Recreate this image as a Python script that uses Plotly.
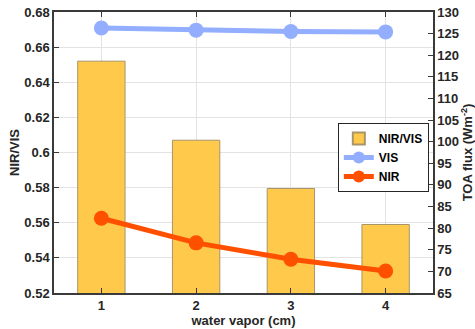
import plotly.graph_objects as go

water_vapor = [1, 2, 3, 4]
nir_vis = [0.652, 0.607, 0.5795, 0.559]
vis_flux = [126.3, 125.8, 125.5, 125.4]
nir_flux = [82.3, 76.6, 72.8, 70.1]

left_ticks = [0.52, 0.54, 0.56, 0.58, 0.60, 0.62, 0.64, 0.66, 0.68]
left_labels = ["0.52", "0.54", "0.56", "0.58", "0.6", "0.62", "0.64", "0.66", "0.68"]
right_ticks = list(range(65, 131, 5))

FONT = dict(family="Liberation Sans, Arial, sans-serif", size=13, color="#262626", weight="bold")
AX = "#3a3a3a"

fig = go.Figure()
fig.add_trace(go.Bar(
    x=water_vapor, y=nir_vis, width=0.5, name="NIR/VIS",
    marker=dict(color="#FFC94B", line=dict(color="#A8956A", width=1)),
    yaxis="y",
))
fig.add_trace(go.Scatter(
    x=water_vapor, y=vis_flux, name="VIS", mode="lines+markers",
    line=dict(color="#93AEFF", width=5), marker=dict(size=15, color="#93AEFF"),
    yaxis="y2",
))
fig.add_trace(go.Scatter(
    x=water_vapor, y=nir_flux, name="NIR", mode="lines+markers",
    line=dict(color="#FF5000", width=5), marker=dict(size=15, color="#FF5000"),
    yaxis="y2",
))

fig.update_layout(
    width=475, height=329,
    margin=dict(l=54, r=42, t=12, b=36, autoexpand=False),
    paper_bgcolor="white", plot_bgcolor="white",
    font=FONT,
    bargap=0.5,
    xaxis=dict(
        range=[0.5, 4.5], tickvals=water_vapor, ticktext=[str(v) for v in water_vapor],
        showgrid=True, gridcolor="#e3e3e3", gridwidth=1,
        showline=True, linecolor=AX, linewidth=1.5, mirror="ticks",
        ticks="inside", ticklen=5, tickcolor=AX,
        title=dict(text="water vapor (cm)", standoff=3, font=FONT),
        zeroline=False,
    ),
    yaxis=dict(
        range=[0.52, 0.68], tickvals=left_ticks, ticktext=left_labels,
        showgrid=True, gridcolor="#e3e3e3", gridwidth=1,
        showline=True, linecolor=AX, linewidth=1.5,
        ticks="inside", ticklen=5, tickcolor=AX,
        title=dict(text="NIR/VIS", standoff=2, font=FONT),
        zeroline=False,
    ),
    yaxis2=dict(
        range=[65, 130], tickvals=right_ticks, overlaying="y", side="right",
        showgrid=False,
        showline=True, linecolor=AX, linewidth=1.5,
        ticks="inside", ticklen=5, tickcolor=AX,
        title=dict(text="TOA flux (Wm<sup>-2</sup>)", standoff=6, font=FONT),
        zeroline=False,
    ),
    legend=dict(
        x=0.989, y=0.605, xanchor="right", yanchor="top",
        bgcolor="white", bordercolor="#262626", borderwidth=1,
        font=dict(family="Liberation Sans, Arial, sans-serif", size=12, color="black", weight="bold"),
        itemwidth=30, tracegroupgap=0, itemsizing="constant",
    ),
    showlegend=True,
)

fig.write_html("out.html")
